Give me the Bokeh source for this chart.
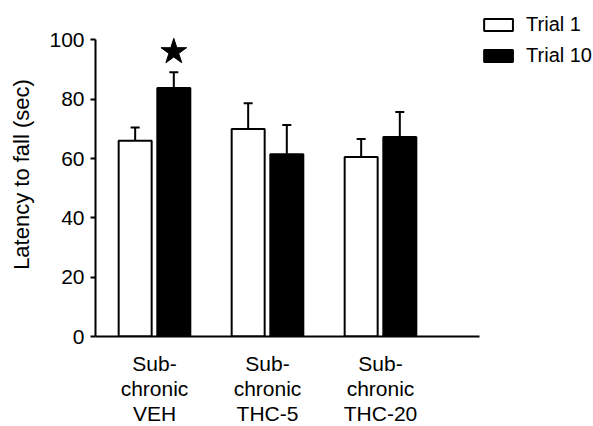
from bokeh.plotting import figure
from bokeh.models import (ColumnDataSource, Range1d, FixedTicker, Whisker, TeeHead,
                          Legend, LegendItem)
from bokeh.transform import dodge
from bokeh.embed import file_html
from bokeh.resources import INLINE

groups = ["Sub-\nchronic\nVEH", "Sub-\nchronic\nTHC-5", "Sub-\nchronic\nTHC-20"]
trial1 = [66.0, 70.0, 60.5]
trial1_sem = [4.5, 8.7, 6.1]
trial10 = [83.8, 61.5, 67.3]
trial10_sem = [5.3, 9.8, 8.4]
yticks = [0, 20, 40, 60, 80, 100]
star_value = 96

xpos = [i + 1 for i in range(len(groups))]
off = 0.171
bw = 0.292

src = ColumnDataSource(dict(
    x=xpos, t1=trial1, t10=trial10,
    t1u=[a + b for a, b in zip(trial1, trial1_sem)],
    t10u=[a + b for a, b in zip(trial10, trial10_sem)],
))

FONT = "Liberation Sans"

p = figure(frame_width=498, frame_height=324, output_backend="svg", toolbar_location=None,
           x_range=Range1d(0.478, 4.885), y_range=Range1d(0, 109.27),
           min_border_left=95, min_border_right=0, min_border_top=12, min_border_bottom=88)
p.outline_line_color = None
p.grid.grid_line_color = None
p.background_fill_color = None
p.border_fill_color = None

r1 = p.vbar(x=dodge('x', -off, range=p.x_range), top='t1', width=bw, source=src,
            fill_color="white", line_color="black", line_width=2)
r10 = p.vbar(x=dodge('x', off, range=p.x_range), top='t10', width=bw, source=src,
             fill_color="black", line_color="black", line_width=2)

for xo, lo, up in [(-off, 't1', 't1u'), (off, 't10', 't10u')]:
    w = Whisker(base=dodge('x', xo, range=p.x_range), lower=lo, upper=up, source=src,
                dimension="height", line_color="black", line_width=2,
                lower_head=None, upper_head=TeeHead(size=9, line_color="black", line_width=2))
    p.add_layout(w)

p.scatter(x=[xpos[0] + off], y=[star_value], marker="star", size=27,
          fill_color="black", line_color="black")

# axes
p.yaxis.ticker = FixedTicker(ticks=yticks)
p.yaxis.bounds = (0, 100)
p.yaxis.axis_label = "Latency to fall (sec)"
p.yaxis.axis_label_text_font = FONT
p.yaxis.axis_label_text_font_size = "22px"
p.yaxis.axis_label_text_font_style = "normal"
p.yaxis.axis_label_text_color = "black"
p.yaxis.axis_label_standoff = 12
p.yaxis.major_label_text_font = FONT
p.yaxis.major_label_text_font_size = "21px"
p.yaxis.major_label_text_color = "black"
p.yaxis.major_tick_out = 5
p.yaxis.major_tick_in = 0
p.yaxis.minor_tick_line_color = None
p.yaxis.axis_line_width = 2
p.yaxis.major_tick_line_width = 2
p.yaxis.major_label_standoff = 6

p.xaxis.ticker = FixedTicker(ticks=xpos)
p.xaxis.bounds = (0.478, 3.876)
p.xaxis.major_label_overrides = {x: g for x, g in zip(xpos, groups)}
p.xaxis.major_label_text_font = FONT
p.xaxis.major_label_text_font_size = "21px"
p.xaxis.major_label_text_color = "black"
p.xaxis.major_label_text_line_height = 1.1
p.xaxis.major_tick_line_color = None
p.xaxis.minor_tick_line_color = None
p.xaxis.axis_line_width = 2
p.xaxis.major_label_standoff = 9

legend = Legend(items=[LegendItem(label="Trial 1", renderers=[r1]),
                       LegendItem(label="Trial 10", renderers=[r10])],
                location="top_right", orientation="vertical",
                glyph_width=36, glyph_height=15, label_height=15,
                spacing=8, padding=1, margin=1, label_standoff=10,
                label_text_font=FONT, label_text_font_size="20px",
                label_text_color="black",
                border_line_color=None, background_fill_alpha=0)
p.add_layout(legend)

open("out.html", "w").write(file_html(p, INLINE))
